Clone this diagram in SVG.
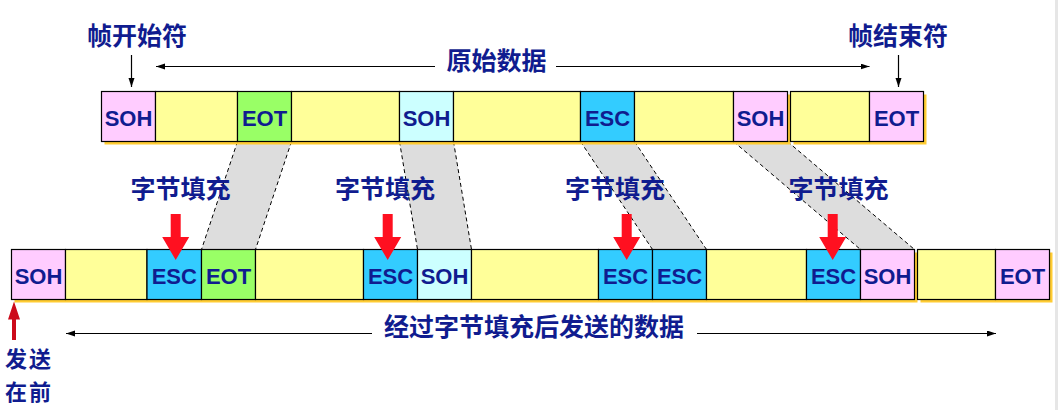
<svg xmlns="http://www.w3.org/2000/svg" width="1060" height="410" viewBox="0 0 1060 410">
<style>
.cn{font-family:"Noto Sans CJK SC","Noto Sans",sans-serif;font-weight:700;font-size:25px;fill:#101c8f;text-anchor:middle}
.cs{font-family:"Noto Sans CJK SC","Noto Sans",sans-serif;font-weight:700;font-size:22px;letter-spacing:2px;fill:#101c8f}
.lb{font-family:"Liberation Sans",Arial,sans-serif;font-weight:700;font-size:22px;fill:#101c8f;text-anchor:middle}
.bx{stroke:#000;stroke-width:1.2}
.y{fill:#ffff99}.p{fill:#ffccff}.g{fill:#99ff66}.c{fill:#ccffff}.b{fill:#33ccff}
.sh{fill:#ffcc33}
.ln{stroke:#000;stroke-width:1.2;fill:none}
.ds{stroke:#000;stroke-width:1;stroke-dasharray:4 3;fill:none}
.band{fill:#dddddd}
.red{fill:#ff1020}
</style>
<defs>
<marker id="ah" markerUnits="userSpaceOnUse" markerWidth="10" markerHeight="7" refX="9" refY="3" orient="auto">
<path d="M0,0 L9,3 L0,6 z" fill="#000"/>
</marker>
</defs>
<rect x="1055" y="0" width="3" height="410" fill="#e6e6e6"/>

<g id="connectors">
<polygon class="band" points="237.5,141.5 291.5,141.5 255.5,249.5 201.5,249.5"/>
<line class="ds" x1="237.5" y1="141.5" x2="201.5" y2="249.5"/>
<line class="ds" x1="291.5" y1="141.5" x2="255.5" y2="249.5"/>
<polygon class="band" points="399.5,141.5 453.5,141.5 471.5,249.5 417.5,249.5"/>
<line class="ds" x1="399.5" y1="141.5" x2="417.5" y2="249.5"/>
<line class="ds" x1="453.5" y1="141.5" x2="471.5" y2="249.5"/>
<polygon class="band" points="580.5,141.5 634.5,141.5 706.5,249.5 652.5,249.5"/>
<line class="ds" x1="580.5" y1="141.5" x2="652.5" y2="249.5"/>
<line class="ds" x1="634.5" y1="141.5" x2="706.5" y2="249.5"/>
<polygon class="band" points="733.5,141.5 787.5,141.5 914.5,249.5 860.5,249.5"/>
<line class="ds" x1="733.5" y1="141.5" x2="860.5" y2="249.5"/>
<line class="ds" x1="787.5" y1="141.5" x2="914.5" y2="249.5"/>

<line class="ln" x1="131.5" y1="55" x2="131.5" y2="87" marker-end="url(#ah)"/>
<line class="ln" x1="898.5" y1="55" x2="898.5" y2="87" marker-end="url(#ah)"/>
<line class="ln" x1="435" y1="66.5" x2="156" y2="66.5" marker-end="url(#ah)"/>
<line class="ln" x1="556" y1="66.5" x2="869.5" y2="66.5" marker-end="url(#ah)"/>
<line class="ln" x1="372" y1="333.5" x2="66" y2="333.5" marker-end="url(#ah)"/>
<line class="ln" x1="697" y1="333.5" x2="996" y2="333.5" marker-end="url(#ah)"/>
</g>

<g id="top-row">
<rect class="sh" x="104.5" y="94.5" width="686" height="50"/>
<rect class="sh" x="793.5" y="94.5" width="133" height="50"/>
<g id="t1"><rect class="bx p" x="101.5" y="91.5" width="54" height="50"/><text class="lb" x="128.5" y="125.5">SOH</text></g>
<g id="t2"><rect class="bx y" x="155.5" y="91.5" width="82" height="50"/></g>
<g id="t3"><rect class="bx g" x="237.5" y="91.5" width="54" height="50"/><text class="lb" x="264.5" y="125.5">EOT</text></g>
<g id="t4"><rect class="bx y" x="291.5" y="91.5" width="108" height="50"/></g>
<g id="t5"><rect class="bx c" x="399.5" y="91.5" width="54" height="50"/><text class="lb" x="426.5" y="125.5">SOH</text></g>
<g id="t6"><rect class="bx y" x="453.5" y="91.5" width="127" height="50"/></g>
<g id="t7"><rect class="bx b" x="580.5" y="91.5" width="54" height="50"/><text class="lb" x="607.5" y="125.5">ESC</text></g>
<g id="t8"><rect class="bx y" x="634.5" y="91.5" width="99" height="50"/></g>
<g id="t9"><rect class="bx p" x="733.5" y="91.5" width="54" height="50"/><text class="lb" x="760.5" y="125.5">SOH</text></g>
<g id="t10"><rect class="bx y" x="790.5" y="91.5" width="79" height="50"/></g>
<g id="t11"><rect class="bx p" x="869.5" y="91.5" width="54" height="50"/><text class="lb" x="896.5" y="125.5">EOT</text></g>
</g>

<g id="bottom-row">
<rect class="sh" x="14.5" y="252.5" width="903" height="50"/>
<rect class="sh" x="920.5" y="252.5" width="132" height="50"/>
<g id="b1"><rect class="bx p" x="11.5" y="249.5" width="54" height="50"/><text class="lb" x="38.5" y="283.5">SOH</text></g>
<g id="b2"><rect class="bx y" x="65.5" y="249.5" width="81.5" height="50"/></g>
<g id="b3"><rect class="bx b" x="147" y="249.5" width="54.5" height="50"/><text class="lb" x="174.3" y="283.5">ESC</text></g>
<g id="b4"><rect class="bx g" x="201.5" y="249.5" width="54" height="50"/><text class="lb" x="228.5" y="283.5">EOT</text></g>
<g id="b5"><rect class="bx y" x="255.5" y="249.5" width="108" height="50"/></g>
<g id="b6"><rect class="bx b" x="363.5" y="249.5" width="54" height="50"/><text class="lb" x="390.5" y="283.5">ESC</text></g>
<g id="b7"><rect class="bx c" x="417.5" y="249.5" width="54" height="50"/><text class="lb" x="444.5" y="283.5">SOH</text></g>
<g id="b8"><rect class="bx y" x="471.5" y="249.5" width="127" height="50"/></g>
<g id="b9"><rect class="bx b" x="598.5" y="249.5" width="54" height="50"/><text class="lb" x="625.5" y="283.5">ESC</text></g>
<g id="b10"><rect class="bx b" x="652.5" y="249.5" width="54" height="50"/><text class="lb" x="679.5" y="283.5">ESC</text></g>
<g id="b11"><rect class="bx y" x="706.5" y="249.5" width="100" height="50"/></g>
<g id="b12"><rect class="bx b" x="806.5" y="249.5" width="54" height="50"/><text class="lb" x="833.5" y="283.5">ESC</text></g>
<g id="b13"><rect class="bx p" x="860.5" y="249.5" width="54" height="50"/><text class="lb" x="887.5" y="283.5">SOH</text></g>
<g id="b14"><rect class="bx y" x="917.5" y="249.5" width="78" height="50"/></g>
<g id="b15"><rect class="bx p" x="995.5" y="249.5" width="54" height="50"/><text class="lb" x="1022.5" y="283.5">EOT</text></g>
</g>

<g id="stuff-arrows">
<polygon class="red" points="170.7,214 180.7,214 180.7,237 189.2,237 175.7,260 162.2,237 170.7,237"/>
<polygon class="red" points="382.7,214 392.7,214 392.7,237 401.2,237 387.7,260 374.2,237 382.7,237"/>
<polygon class="red" points="621.7,214 631.7,214 631.7,237 640.2,237 626.7,260 613.2,237 621.7,237"/>
<polygon class="red" points="827.7,214 837.7,214 837.7,237 846.2,237 832.7,260 819.2,237 827.7,237"/>
<polygon fill="#cc0a1a" points="12,340 16,340 16,319.5 20,319.5 14,301.5 8,319.5 12,319.5"/>
</g>

<g id="labels">
<text class="cn" x="137" y="44.5">帧开始符</text>
<text class="cn" x="898" y="44.5">帧结束符</text>
<text class="cn" x="496.5" y="69.5">原始数据</text>
<text class="cn" x="180.5" y="197.5">字节填充</text>
<text class="cn" x="385" y="197.5">字节填充</text>
<text class="cn" x="615" y="197.5">字节填充</text>
<text class="cn" x="838.5" y="197.5">字节填充</text>
<text class="cn" x="534" y="336">经过字节填充后发送的数据</text>
<text class="cs" x="5" y="367">发送</text>
<text class="cs" x="5" y="399.5">在前</text>
</g>
</svg>
